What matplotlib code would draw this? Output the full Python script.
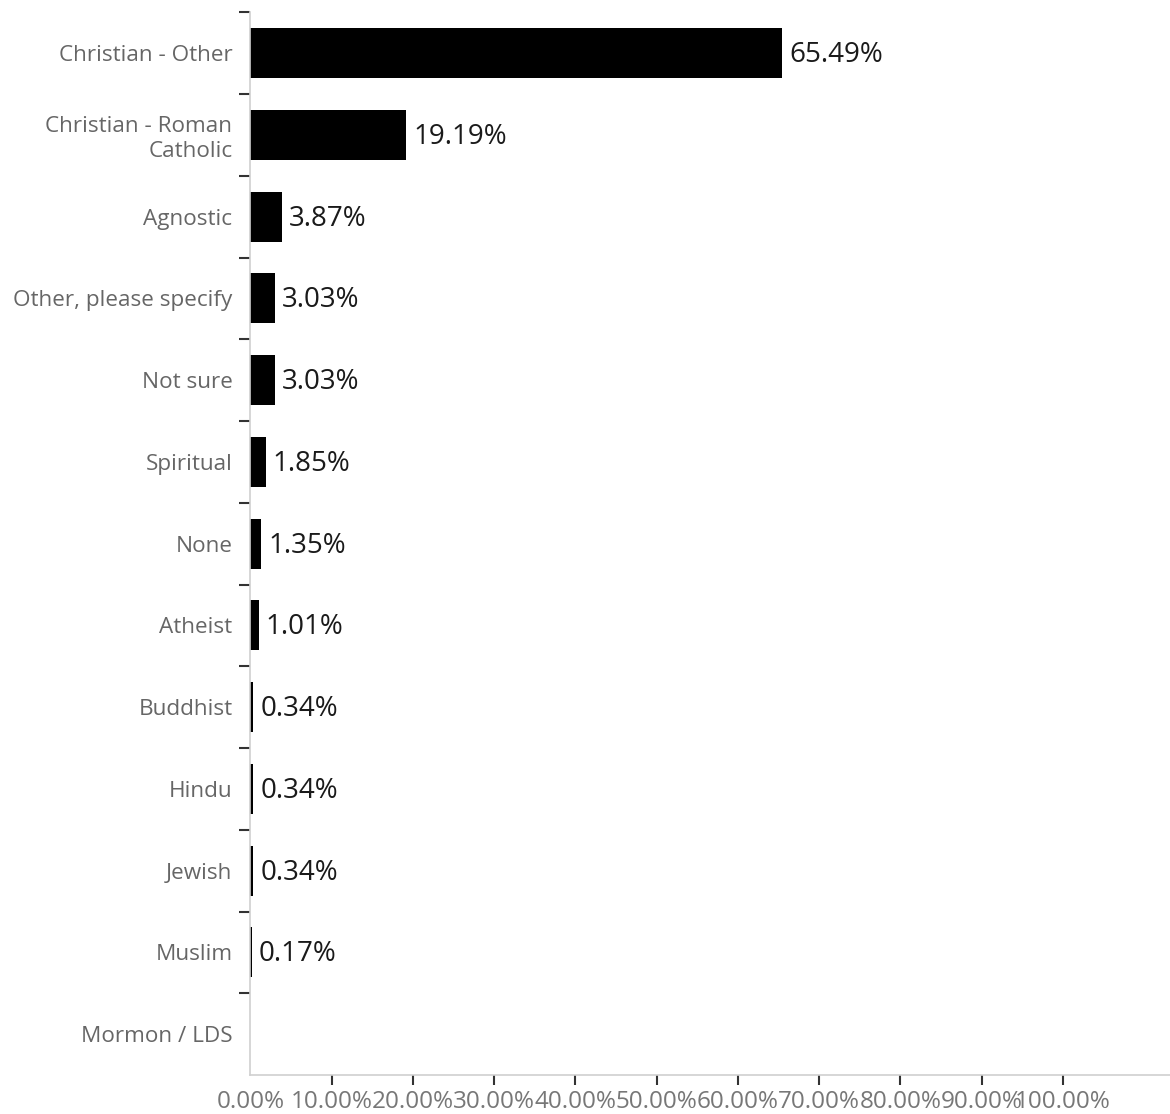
import matplotlib
matplotlib.use("Agg")
import matplotlib.pyplot as plt
from matplotlib.ticker import FixedLocator, PercentFormatter
import numpy as np

categories = ["Christian - Other", "Christian - Roman\nCatholic", "Agnostic",
              "Other, please specify", "Not sure", "Spiritual", "None", "Atheist",
              "Buddhist", "Hindu", "Jewish", "Muslim", "Mormon / LDS"]
values = [65.49, 19.19, 3.87, 3.03, 3.03, 1.85, 1.35, 1.01, 0.34, 0.34, 0.34, 0.17, 0.0]
xticks = [0, 10, 20, 30, 40, 50, 60, 70, 80, 90, 100]

plt.rcParams['font.family'] = ['Open Sans', 'DejaVu Sans']

fig = plt.figure(figsize=(11.7, 11.14), dpi=100)
ax = fig.add_axes([0.2141, 0.035, 0.7859, 0.954])

y = np.arange(len(categories))
ax.barh(y, values, height=0.61, color='black')
for yi, v in zip(y, values):
    if v > 0:
        ax.annotate(f"{v:.2f}%", (v, yi), xytext=(5, -1.5), textcoords='offset points',
                    va='center', ha='left', fontsize=20, color='#1a1a1a')

ax.set_ylim(len(categories) - 0.5, -0.5)
ax.set_xlim(0, 113.2)
ax.set_yticks(y)
ax.set_yticklabels(categories, fontsize=16.2, color='#666666', ha='right',
                   linespacing=1.25)
ax.tick_params(axis='y', which='major', length=0, pad=13)
ax.yaxis.set_minor_locator(FixedLocator(np.arange(-0.5, len(categories) - 0.5, 1)))
ax.tick_params(axis='y', which='minor', length=8, width=1.5, color='#333333')

ax.set_xticks(xticks)
ax.xaxis.set_major_formatter(PercentFormatter(decimals=2))
ax.tick_params(axis='x', length=7, width=1.5, color='#333333', labelsize=17.5,
               labelcolor='#777777', pad=4)
ax.xaxis.get_major_ticks()[0].tick1line.set_visible(False)

for s in ['top', 'right']:
    ax.spines[s].set_visible(False)
for s in ['left', 'bottom']:
    ax.spines[s].set_color('#d0d0d0')
    ax.spines[s].set_linewidth(1.2)

fig.savefig("out.png", dpi=100)
